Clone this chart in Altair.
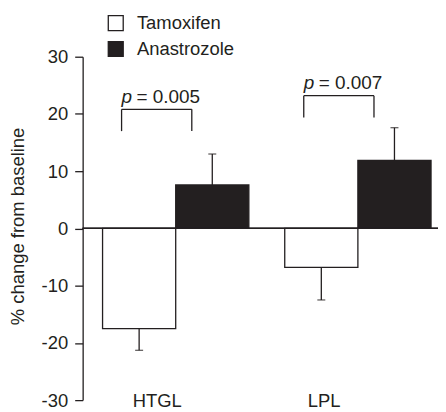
import altair as alt
import pandas as pd

# ---- data ----
groups = ["HTGL", "HTGL", "LPL", "LPL"]
series = ["Tamoxifen", "Anastrozole", "Tamoxifen", "Anastrozole"]
means = [-17.5, 7.6, -6.8, 11.9]
err_ends = [-21.3, 13.0, -12.5, 17.6]

bracket_groups = ["HTGL", "LPL"]
bracket_tops = [20.8, 23.2]
bracket_bottoms = [17.0, 19.4]
p_texts = ["= 0.005", "= 0.007"]

categories = ["HTGL", "LPL"]
series_order = ["Tamoxifen", "Anastrozole"]
y_ticks = [-30, -20, -10, 0, 10, 20, 30]

INK = "#231f20"
FONT = "Liberation Sans"

bars_df = pd.DataFrame({"group": groups, "series": series, "mean": means, "err": err_ends})
br_df = pd.DataFrame({"group": bracket_groups, "top": bracket_tops,
                      "bottom": bracket_bottoms, "p": p_texts})

x_scale = alt.Scale(domain=categories, range=[20, 350], paddingInner=0.197, paddingOuter=0)
y_scale = alt.Scale(domain=[-30, 30], nice=False, zero=False)
off_scale = alt.Scale(domain=series_order, paddingInner=0, paddingOuter=0)

x_axis = alt.Axis(title=None, domain=False, ticks=False, tickSize=0, labelPadding=0,
                  labelBaseline="middle", labelFontSize=18.5, labelFont=FONT, labelColor=INK,
                  labelAngle=0,
                  labelOffset={"condition": {"test": "datum.value == 'HTGL'", "value": -18.5},
                               "value": -34})
y_axis = alt.Axis(title="% change from baseline", values=y_ticks, labelExpr="datum.value",
                  grid=False, tickSize=8, tickColor=INK, tickWidth=1.3,
                  domainColor=INK, domainWidth=1.3, labelPadding=7,
                  labelFontSize=18.5, labelFont=FONT, labelColor=INK,
                  titleFontSize=18.5, titleFont=FONT, titleColor=INK, titleFontWeight="normal",
                  titleX=-65, titleY=170, titleAngle=270, titleAlign="center",
                  titleBaseline="middle")


def X(band=None):
    if band is None:
        return alt.X("group:N", scale=x_scale, axis=x_axis)
    return alt.X("group:N", scale=x_scale, axis=x_axis, bandPosition=band)


def Y(field):
    return alt.Y(field, type="quantitative", scale=y_scale, axis=y_axis)


XOFF = alt.XOffset("series:N", scale=off_scale)

legend = alt.Legend(title=None, orient="none", legendX=24, legendY=-43,
                    symbolType="square", symbolSize=225, symbolStrokeColor=INK,
                    symbolStrokeWidth=1.3, labelFontSize=18.5, labelFont=FONT,
                    labelColor=INK, labelOffset=12, rowPadding=5, padding=0, offset=0)

base = alt.Chart(bars_df)

bars = base.mark_bar(stroke=INK, strokeWidth=1.3).encode(
    x=X(), xOffset=XOFF, y=Y("mean"),
    fill=alt.Fill("series:N", scale=alt.Scale(domain=series_order, range=["#ffffff", INK]),
                  legend=legend),
)

zero = base.mark_rule(color=INK, strokeWidth=1.3).encode(y=alt.datum(0))

err = base.mark_rule(color=INK, strokeWidth=1.3).encode(
    x=X(), xOffset=XOFF, y=Y("mean"), y2="err")
caps = base.mark_tick(color=INK, size=8, thickness=1.3).encode(
    x=X(), xOffset=XOFF, y=Y("err"))

bbase = alt.Chart(br_df)
leg_l = bbase.mark_rule(color=INK, strokeWidth=1.3).encode(x=X(0.13), y=Y("bottom"), y2="top")
leg_r = bbase.mark_rule(color=INK, strokeWidth=1.3).encode(x=X(0.61), y=Y("bottom"), y2="top")
top = bbase.mark_rule(color=INK, strokeWidth=1.3).encode(
    x=X(0.13), x2=alt.X2("group:N", bandPosition=0.61), y=Y("top"))
p_it = bbase.mark_text(font=FONT, fontSize=19, fontStyle="italic", color=INK, align="left",
                       baseline="alphabetic", dx=0, dy=-6.5).encode(
    x=X(0.13), y=Y("top"), text=alt.value("p"))
p_rest = bbase.mark_text(font=FONT, fontSize=19, color=INK, align="left",
                         baseline="alphabetic", dx=15, dy=-6.5).encode(
    x=X(0.13), y=Y("top"), text="p:N")

chart = alt.layer(bars, zero, err, caps, leg_l, leg_r, top, p_it, p_rest).properties(
    width=357, height=345,
    autosize=alt.AutoSizeParams(type="none"),
    padding={"left": 75, "top": 48, "right": 0, "bottom": 12},
).configure_view(stroke=None)

chart.save("out.html", embed_options={"renderer": "svg", "actions": False})
